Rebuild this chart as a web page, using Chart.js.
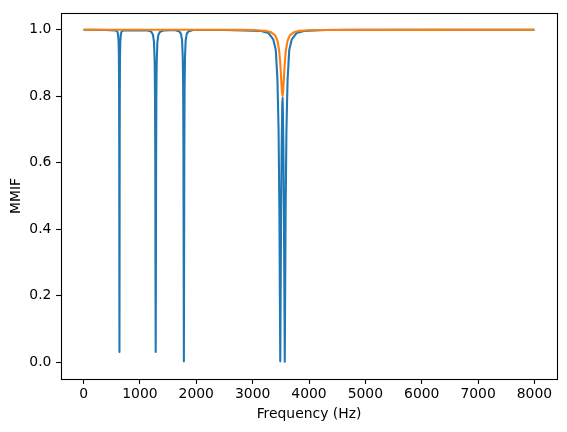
<!DOCTYPE html>
<html>
<head>
<meta charset="utf-8">
<script src="https://cdn.jsdelivr.net/npm/chart.js@4"></script>
<style>
  body { margin: 0; background: #fff; }
  #box { width: 567px; height: 432px; }
</style>
</head>
<body>
<div id="box"><canvas id="myChart" width="567" height="432"></canvas></div>
<script>
// frequency (Hz) / MMIF
const freqBlue = [0, 400, 562, 597, 612, 622, 627, 631, 633, 635, 637, 639, 641, 643, 647, 652, 662, 677, 712,
    1130, 1202, 1232, 1250, 1262, 1268, 1273, 1276, 1280, 1284, 1287, 1292, 1298, 1310, 1328, 1358, 1430,
    1620, 1695, 1728, 1748, 1760, 1767, 1772, 1776, 1780, 1784, 1788, 1793, 1800, 1812, 1832, 1865, 1940,
    2500, 3150, 3280, 3365, 3410, 3440, 3460, 3475, 3485, 3490, 3495, 3505, 3515, 3525, 3530, 3535, 3545, 3555, 3565, 3570,
    3575, 3585, 3600, 3620, 3650, 3695, 3780, 3910, 4300, 5000, 8000]
const mmifBlue = [1.0, 0.999, 0.998, 0.995, 0.986, 0.963, 0.920, 0.806, 0.651, 0.327, 0.031, 0.327, 0.651, 0.806, 0.920, 0.963, 0.986, 0.995, 0.998,
    0.998, 0.994, 0.985, 0.963, 0.903, 0.806, 0.603, 0.288, 0.031, 0.288, 0.603, 0.806, 0.903, 0.963, 0.985, 0.994, 0.998,
    0.999, 0.995, 0.988, 0.969, 0.918, 0.832, 0.641, 0.308, 0.003, 0.308, 0.641, 0.832, 0.918, 0.969, 0.988, 0.995, 0.999,
    0.999, 0.996, 0.990, 0.971, 0.940, 0.850, 0.700, 0.450, 0.150, 0.003, 0.150, 0.450, 0.650, 0.770, 0.795, 0.770, 0.650, 0.450, 0.150, 0.002,
    0.150, 0.450, 0.700, 0.850, 0.940, 0.971, 0.990, 0.996, 0.999, 1.0, 1.0]

const freqOrange = [0, 2500, 3030, 3230, 3330, 3400, 3440, 3470, 3490, 3505, 3518, 3530, 3542, 3555, 3570, 3590, 3620, 3660, 3730, 3830, 4030, 8000]
const mmifOrange = [1.0, 1.0, 0.999, 0.9965, 0.992, 0.983, 0.967, 0.938, 0.900, 0.856, 0.817, 0.800, 0.817, 0.856, 0.900, 0.938, 0.967, 0.983, 0.992, 0.9965, 0.999, 1.0]

const xTicks = [0, 1000, 2000, 3000, 4000, 5000, 6000, 7000, 8000]
const yTicks = [0.0, 0.2, 0.4, 0.6, 0.8, 1.0]

const font = { family: "DejaVu Sans", size: 13.9 }

function points(xs, ys) {
    return xs.map((x, i) => ({ x: x, y: ys[i] }))
}

// matplotlib style frame on all four sides
const frame = {
    id: "frame",
    afterDraw(chart) {
        const a = chart.chartArea
        const c = chart.ctx
        c.save()
        c.strokeStyle = "#000"
        c.lineWidth = 1.1
        c.strokeRect(Math.round(a.left) + 0.5, Math.round(a.top) + 0.5, Math.round(a.right - a.left), Math.round(a.bottom - a.top))
        c.restore()
    }
}

let ctx = document.querySelector("#myChart").getContext("2d")

// tiny tension keeps Chart.js off its pixel-merging fast path, which chews up the thin dips
let chart = new Chart(ctx, {
    type: "line",
    data: {
        datasets: [{
            data: points(freqBlue, mmifBlue),
            borderColor: "#1f77b4",
            borderWidth: 2.08,
            borderJoinStyle: "round",
            pointRadius: 0,
            tension: 0.001,
            order: 2
        }, {
            data: points(freqOrange, mmifOrange),
            borderColor: "#ff7f0e",
            borderWidth: 2.08,
            borderJoinStyle: "round",
            pointRadius: 0,
            tension: 0.001,
            order: 1
        }]
    },
    options: {
        responsive: false,
        animation: false,
        devicePixelRatio: 1,
        layout: { padding: { left: 0, right: 10, top: 9, bottom: 0 } },
        plugins: {
            legend: { display: false },
            tooltip: { enabled: false }
        },
        scales: {
            x: {
                type: "linear",
                min: -400,
                max: 8400,
                afterBuildTicks: s => { s.ticks = xTicks.map(v => ({ value: v })) },
                afterFit: s => { s.height = 53 },
                grid: { drawOnChartArea: false, tickLength: 4.9, tickColor: "#000", tickWidth: 1.1 },
                border: { display: false },
                ticks: { color: "#000", font: font, padding: 2.5, maxRotation: 0, callback: v => String(v) },
                title: { display: true, text: "Frequency (Hz)", color: "#000", font: font, padding: { top: 0, bottom: 9.5 } }
            },
            y: {
                type: "linear",
                min: -0.05,
                max: 1.05,
                afterBuildTicks: s => { s.ticks = yTicks.map(v => ({ value: v })) },
                afterFit: s => { s.width = 61 },
                grid: { drawOnChartArea: false, tickLength: 4.9, tickColor: "#000", tickWidth: 1.1 },
                border: { display: false },
                ticks: { color: "#000", font: font, padding: 4.7, callback: v => v.toFixed(1) },
                title: { display: true, text: "MMIF", color: "#000", font: font, padding: { top: 8.4, bottom: 0 } }
            }
        }
    },
    plugins: [frame]
})
</script>
</body>
</html>
